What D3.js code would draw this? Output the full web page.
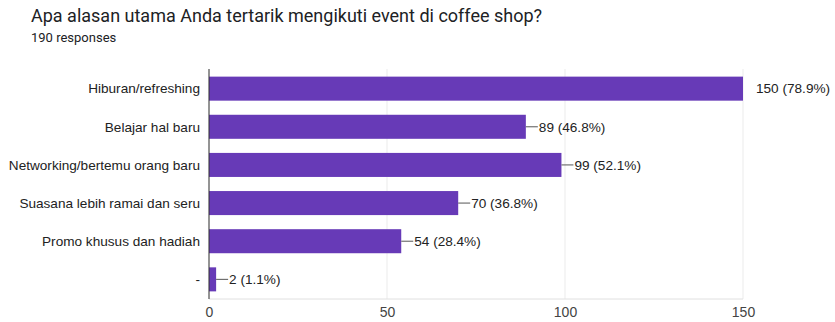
<!DOCTYPE html>
<html>
<head>
<meta charset="utf-8">
<script src="https://cdn.jsdelivr.net/npm/d3@7"></script>
<style>
  body { margin: 0; background: #fff; font-family: Roboto, Arial, sans-serif; }
  .title { font-size: 18px; fill: #202124; }
  .sub { font-size: 13px; fill: #202124; }
  .cat { font-size: 13.6px; fill: #222; font-family: Arial, "Liberation Sans", sans-serif; }
  .val { font-size: 13.6px; fill: #222; font-family: Arial, "Liberation Sans", sans-serif; }
  .tick text { font-size: 14px; fill: #444; }
</style>
</head>
<body>
<svg width="835" height="322"></svg>
<script>
var categories = ["Hiburan/refreshing", "Belajar hal baru", "Networking/bertemu orang baru",
                  "Suasana lebih ramai dan seru", "Promo khusus dan hadiah", "-"];
var counts = [150, 89, 99, 70, 54, 2];
var percents = ["78.9%", "46.8%", "52.1%", "36.8%", "28.4%", "1.1%"];
var xTicks = [0, 50, 100, 150];

var svg = d3.select("svg"),
    margin = {top: 69, left: 209, right: 92, bottom: 23},
    width = 835 - margin.left - margin.right,
    height = 322 - margin.top - margin.bottom;

svg.append("text").attr("class", "title").attr("x", 31).attr("y", 22)
    .text("Apa alasan utama Anda tertarik mengikuti event di coffee shop?");
svg.append("text").attr("class", "sub").attr("x", 31).attr("y", 42).text("190 responses");

var x = d3.scaleLinear().domain([0, 150]).range([0, width]),
    y = d3.scaleBand().domain(categories).range([0, height]).paddingInner(0.37).paddingOuter(0.2);

var g = svg.append("g").attr("transform", "translate(" + margin.left + "," + margin.top + ")");

// grid
g.selectAll(".grid").data(xTicks).enter().append("line")
    .attr("x1", function(d) { return x(d); }).attr("x2", function(d) { return x(d); })
    .attr("y1", 0).attr("y2", height)
    .attr("stroke", "#ebebeb").attr("stroke-width", 1);
g.append("line").attr("x1", 0).attr("x2", width).attr("y1", height).attr("y2", height)
    .attr("stroke", "#e0e0e0");

// x axis labels
var xa = g.append("g").attr("transform", "translate(0," + height + ")")
    .call(d3.axisBottom(x).tickValues(xTicks).tickSize(0).tickPadding(8));
xa.select(".domain").remove();
xa.selectAll("text").style("font-family", "Arial, 'Liberation Sans', sans-serif");

// bars
g.selectAll(".bar").data(counts).enter().append("rect")
    .attr("x", 0)
    .attr("y", function(d, i) { return y(categories[i]); })
    .attr("width", function(d) { return x(d); })
    .attr("height", y.bandwidth())
    .attr("fill", "#673ab7");

// left axis line
g.append("line").attr("x1", 0).attr("x2", 0).attr("y1", 0).attr("y2", height)
    .attr("stroke", "#333").attr("stroke-width", 1);

// category labels
g.selectAll(".cat").data(categories).enter().append("text")
    .attr("class", "cat")
    .attr("x", -9)
    .attr("y", function(d) { return y(d) + y.bandwidth() / 2; })
    .attr("dy", "0.35em")
    .attr("text-anchor", "end")
    .text(function(d) { return d; });

// value labels with leader lines
g.selectAll(".lead").data(counts).enter().append("line")
    .attr("x1", function(d) { return x(d); })
    .attr("x2", function(d) { return x(d) + 12; })
    .attr("y1", function(d, i) { return y(categories[i]) + y.bandwidth() / 2; })
    .attr("y2", function(d, i) { return y(categories[i]) + y.bandwidth() / 2; })
    .attr("stroke", function(d) { return d === 150 ? "none" : "#555"; });

g.selectAll(".val").data(counts).enter().append("text")
    .attr("class", "val")
    .attr("x", function(d) { return x(d) + 13; })
    .attr("y", function(d, i) { return y(categories[i]) + y.bandwidth() / 2; })
    .attr("dy", "0.35em")
    .text(function(d, i) { return d + " (" + percents[i] + ")"; });
</script>
</body>
</html>
